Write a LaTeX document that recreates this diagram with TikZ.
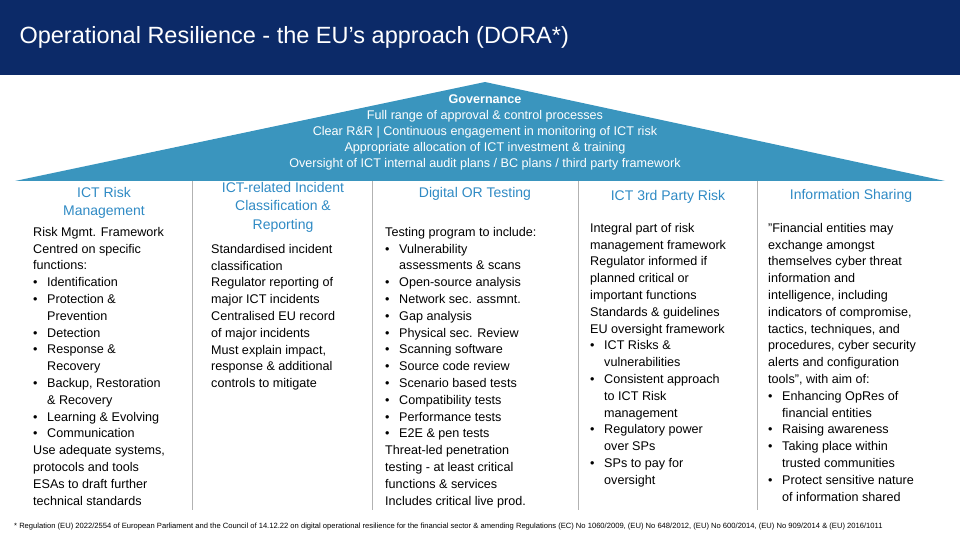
\documentclass[tikz,border=0pt]{standalone}
\usepackage{fontspec}
\setmainfont{Liberation Sans}
\definecolor{navy}{HTML}{0C2A68}
\definecolor{roof}{HTML}{3A95BE}
\definecolor{headblue}{HTML}{2F8AC4}
\newcommand\bu{\makebox[14pt][l]{•}}
\newcommand\ind{\hspace*{14pt}}
\begin{document}
\begin{tikzpicture}[x=1pt,y=-1pt,
  colhead/.style={anchor=north,align=center,text=headblue,font=\fontsize{14}{18.5}\selectfont,inner sep=0},
  colbody/.style={anchor=north west,align=left,font=\fontsize{12.6}{16.8}\selectfont,inner sep=0},
  sep/.style={draw=gray!60,line width=1pt}]
\useasboundingbox (0,0) rectangle (960,540);
\fill[navy] (0,0) rectangle (960,75);
\node[anchor=west,text=white,font=\fontsize{23.5}{28}\selectfont] (title) at (16,37) {Operational Resilience - the EU’s approach (DORA*)};
\fill[roof] (15,181) -- (485,82) -- (945,181) -- cycle;
\node[anchor=north,align=center,text=white,font=\fontsize{12.6}{16}\selectfont,inner sep=0] (gov) at (485,95)
 {\textbf{Governance}\\Full range of approval \& control processes\\Clear R\&R \textbar\ Continuous engagement in monitoring of ICT risk\\Appropriate allocation of ICT investment \& training\\Oversight of ICT internal audit plans / BC plans / third party framework};
\foreach \x/\n in {192/a,372/b,578/c,757/d}{\draw[sep] (\x,181) -- (\x,510);}
\node[colhead] (h1) at (104,187) {ICT Risk\\Management};
\node[colhead] (h2) at (283,182) {ICT-related Incident\\Classification \&\\Reporting};
\node[colhead] (h3) at (475,187) {Digital OR Testing};
\node[colhead] (h4) at (668,190) {ICT 3rd Party Risk};
\node[colhead] (h5) at (851,189) {Information Sharing};
\node[colbody] (b1) at (33,227) {Risk Mgmt. Framework\\Centred on specific\\functions:\\\bu Identification\\\bu Protection \&\\\ind Prevention\\\bu Detection\\\bu Response \&\\\ind Recovery\\\bu Backup, Restoration\\\ind \& Recovery\\\bu Learning \& Evolving\\\bu Communication\\Use adequate systems,\\protocols and tools\\ESAs to draft further\\technical standards};
\node[colbody] (b2) at (211,244) {Standardised incident\\classification\\Regulator reporting of\\major ICT incidents\\Centralised EU record\\of major incidents\\Must explain impact,\\response \& additional\\controls to mitigate};
\node[colbody] (b3) at (385,227) {Testing program to include:\\\bu Vulnerability\\\ind assessments \& scans\\\bu Open-source analysis\\\bu Network sec. assmnt.\\\bu Gap analysis\\\bu Physical sec. Review\\\bu Scanning software\\\bu Source code review\\\bu Scenario based tests\\\bu Compatibility tests\\\bu Performance tests\\\bu E2E \& pen tests\\Threat-led penetration\\testing - at least critical\\functions \& services\\Includes critical live prod.};
\node[colbody] (b4) at (590,223) {Integral part of risk\\management framework\\Regulator informed if\\planned critical or\\important functions\\Standards \& guidelines\\EU oversight framework\\\bu ICT Risks \&\\\ind vulnerabilities\\\bu Consistent approach\\\ind to ICT Risk\\\ind management\\\bu Regulatory power\\\ind over SPs\\\bu SPs to pay for\\\ind oversight};
\node[colbody] (b5) at (768,223) {"Financial entities may\\exchange amongst\\themselves cyber threat\\information and\\intelligence, including\\indicators of compromise,\\tactics, techniques, and\\procedures, cyber security\\alerts and configuration\\tools", with aim of:\\\bu Enhancing OpRes of\\\ind financial entities\\\bu Raising awareness\\\bu Taking place within\\\ind trusted communities\\\bu Protect sensitive nature\\\ind of information shared};
\node[anchor=west,font=\fontsize{7.6}{9}\selectfont,inner sep=0] (foot) at (14,527) {* Regulation (EU) 2022/2554 of European Parliament and the Council of 14.12.22 on digital operational resilience for the financial sector \& amending Regulations (EC) No 1060/2009, (EU) No 648/2012, (EU) No 600/2014, (EU) No 909/2014 \& (EU) 2016/1011};
\end{tikzpicture}
\end{document}
